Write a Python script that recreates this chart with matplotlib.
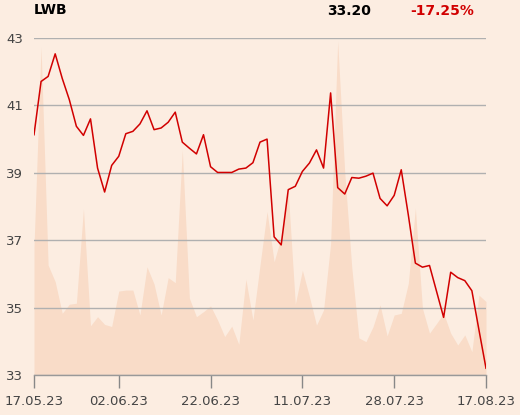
import matplotlib
matplotlib.use("Agg")
import matplotlib.pyplot as plt

# ---- data ----
price = [40.13, 41.71, 41.86, 42.53, 41.80, 41.17, 40.38, 40.11, 40.60, 39.14,
         38.43, 39.22, 39.49, 40.16, 40.23, 40.45, 40.84, 40.28, 40.33, 40.50,
         40.80, 39.91, 39.73, 39.56, 40.13, 39.18, 39.01, 39.01, 39.01, 39.11,
         39.14, 39.30, 39.91, 40.00, 37.10, 36.86, 38.50, 38.60, 39.04, 39.29,
         39.68, 39.14, 41.37, 38.56, 38.37, 38.86, 38.84, 38.90, 38.99, 38.24,
         38.02, 38.33, 39.09, 37.75, 36.32, 36.20, 36.25, 35.48, 34.71, 36.05,
         35.89, 35.80, 35.50, 34.34, 33.20]

volume = [38.0, 97.4, 32.6, 27.7, 18.3, 21.0, 21.3, 49.3, 14.6, 17.3,
          15.0, 14.4, 24.9, 25.2, 25.2, 17.8, 32.1, 27.0, 17.8, 28.9,
          27.4, 66.8, 22.8, 17.3, 18.8, 20.5, 16.3, 11.4, 14.5, 9.1,
          28.4, 16.3, 32.6, 48.5, 33.6, 41.0, 54.4, 21.0, 31.1, 23.2,
          14.8, 19.3, 39.0, 99.1, 60.0, 31.8, 11.0, 9.9, 14.3, 20.8,
          11.6, 17.8, 18.3, 27.2, 49.5, 19.8, 12.4, 15.3, 18.3, 12.4,
          8.9, 11.9, 6.9, 23.7, 21.8]

tick_idx = [0, 12, 25, 38, 51, 64]
tick_labels = ["17.05.23", "02.06.23", "22.06.23", "11.07.23", "28.07.23", "17.08.23"]
y_ticks = [33, 35, 37, 39, 41, 43]

ticker = "LWB"
last_price = "33.20"
change = "-17.25%"

# ---- style ----
BG = "#FCEDE1"
AREA = "#F9DCC8"
RED = "#D10000"
GRID = "#B0B0B0"
TXT = "#444444"

W, H = 520, 415
fig = plt.figure(figsize=(W / 100, H / 100), dpi=100, facecolor=BG)
l, r, b, t = 34, 486, 375, 38
ax = fig.add_axes([l / W, (H - b) / H, (r - l) / W, (b - t) / H])
axv = ax.twinx()
ax.set_zorder(axv.get_zorder() + 1)
ax.patch.set_visible(False)
axv.set_facecolor(BG)

x = list(range(len(price)))

axv.fill_between(x, 0, volume, color=AREA, linewidth=0)
axv.set_ylim(0, 100)
axv.set_yticks([])
for s in axv.spines.values():
    s.set_visible(False)

ax.plot(x, price, color=RED, linewidth=1.1, zorder=3)
ax.set_xlim(0, len(price) - 1)
ax.set_ylim(33, 43)
ax.set_yticks(y_ticks)
ax.set_yticklabels([str(v) for v in y_ticks])
ax.grid(axis="y", color=GRID, linewidth=1)
ax.tick_params(axis="y", length=0, pad=8, labelsize=9.5, labelcolor=TXT)
ax.set_xticks(tick_idx)
ax.set_xticklabels(tick_labels)
ax.tick_params(axis="x", length=9.5, width=1, color="#888888", pad=5,
               labelsize=9.5, labelcolor=TXT)
for k in ["top", "right", "left"]:
    ax.spines[k].set_visible(False)
ax.spines["bottom"].set_color("#999999")
ax.spines["bottom"].set_linewidth(1)

fig.text(34 / W, 1 - 10 / H, ticker, ha="left", va="center",
         fontsize=10, fontweight="bold", color="black")
fig.text(327 / W, 1 - 11 / H, last_price, ha="left", va="center",
         fontsize=10, fontweight="bold", color="black")
fig.text(410 / W, 1 - 11 / H, change, ha="left", va="center",
         fontsize=10, fontweight="bold", color=RED)

fig.savefig("out.png", dpi=100, facecolor=BG)
